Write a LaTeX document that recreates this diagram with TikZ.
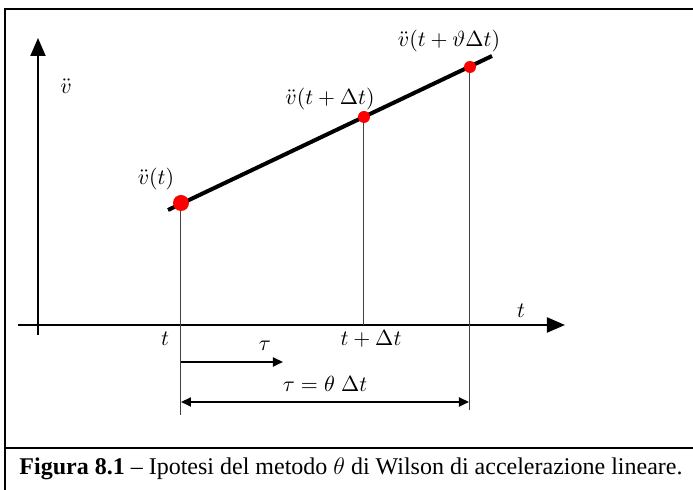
\documentclass[tikz,border=0pt]{standalone}
\usepackage{amsmath}
\usepackage{fontspec}
\setmainfont{Liberation Serif}
\usetikzlibrary{arrows.meta}

\tikzset{
  frame/.style={line width=1.2pt},
  axis/.style={line width=1pt,-{Triangle[length=9pt,width=7.5pt]}},
  curve/.style={line width=2pt},
  guide/.style={line width=0.5pt,black!75},
  dot/.style={circle,fill=red,inner sep=0pt},
  dimarrow/.style={line width=0.9pt},
  lbl/.style={font=\fontsize{10.5}{12}\selectfont}
}

\begin{document}
\begin{tikzpicture}[x=0.5pt,y=-0.5pt]
  \useasboundingbox (0,0) rectangle (693,490);
  \draw[frame] (5,490) |- (693,9);
  \draw[frame] (5,448) -- (693,448);

  \coordinate (o) at (38,325);
  \coordinate (xs) at (18,325);
  \coordinate (xe) at (565,325);
  \coordinate (ys) at (38,335);
  \coordinate (ye) at (38,38);
  \draw[axis] (xs) -- (xe);
  \draw[axis] (ys) -- (ye);

  \coordinate (c0) at (181,203);
  \coordinate (c1) at (364,117);
  \coordinate (c2) at (470,67);
  \coordinate (g0) at (181,415);
  \coordinate (g1) at (364,325);
  \coordinate (g2) at (470,410);
  \draw[guide] (c0) -- (g0);
  \draw[guide] (c1) -- (g1);
  \draw[guide] (c2) -- (g2);

  \coordinate (a0) at (168,210);
  \coordinate (a1) at (492,56);
  \draw[curve] (a0) -- (a1);

  \node[dot,minimum size=8pt] (p0) at (c0) {};
  \node[dot,minimum size=6pt] (p1) at (c1) {};
  \node[dot,minimum size=6pt] (p2) at (c2) {};

  \node[lbl] (lv) at (66,86) {$\ddot{v}$};
  \node[lbl] (lt) at (521,311) {$t$};
  \node[lbl] (lp0) at (156,179) {$\ddot{v}(t)$};
  \node[lbl] (lp1) at (330,99) {$\ddot{v}(t+\Delta t)$};
  \node[lbl] (lp2) at (449,41) {$\ddot{v}(t+\vartheta\Delta t)$};
  \node[lbl] (lt0) at (165,339) {$t$};
  \node[lbl] (lt1) at (371,339) {$t+\Delta t$};

  \coordinate (ts) at (181,362);
  \coordinate (te) at (283,362);
  \draw[dimarrow,-{Triangle[length=5pt,width=4.5pt]}] (ts) -- (te);
  \node[lbl] (ltau) at (265,346) {$\tau$};

  \coordinate (ds) at (181,402);
  \coordinate (de) at (469,402);
  \draw[dimarrow,{Triangle[length=5pt,width=4.5pt]}-{Triangle[length=5pt,width=4.5pt]}] (ds) -- (de);
  \node[lbl] (ldim) at (325,384) {$\tau=\theta\;\Delta t$};

  \node[font=\fontsize{12}{14}\selectfont] (cap) at (351,469) {\textbf{Figura 8.1} -- Ipotesi del metodo $\theta$ di Wilson di accelerazione lineare.};
\end{tikzpicture}
\end{document}
